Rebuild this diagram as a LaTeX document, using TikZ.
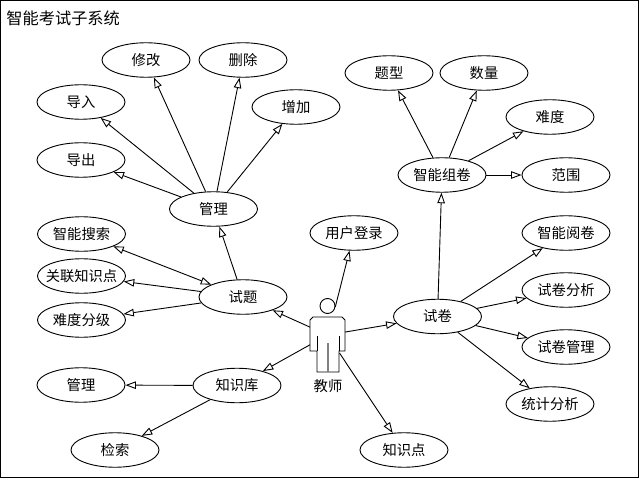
\documentclass[tikz,border=0pt]{standalone}
\usepackage{fontspec}
\setmainfont{Noto Sans CJK SC}
\usetikzlibrary{arrows.meta,shapes.geometric}
\tikzset{
  x=1pt,y=-1pt,
  every path/.style={line width=0.9pt},
  uc/.style={draw,ellipse,inner sep=0pt,minimum width=88pt,minimum height=34.5pt,font=\fontsize{14.3}{14}\selectfont,fill=white},
  conn/.style={-{Triangle[open,fill=white,length=10.5pt,width=7.5pt]}},
  both/.style={{Triangle[open,fill=white,length=10.5pt,width=7.5pt]}-{Triangle[open,fill=white,length=10.5pt,width=7.5pt]}},
  port/.style={inner sep=0pt,outer sep=0pt,minimum width=35pt,minimum height=36pt,rectangle}
}
\begin{document}
\begin{tikzpicture}
\useasboundingbox (0,0) rectangle (639,478);
\draw (0.5,0.5) rectangle (638.5,477.5);
\node[anchor=west,inner sep=0pt,font=\fontsize{16.2}{16}\selectfont] (title) at (6,18) {智能考试子系统};
\node[uc] (xiugai) at (146,60) {修改};
\node[uc] (shanchu) at (243,60) {删除};
\node[uc] (daoru) at (81,102) {导入};
\node[uc] (zengjia) at (296,107) {增加};
\node[uc] (daochu) at (81,160) {导出};
\node[uc] (guanli) at (213.5,209) {管理};
\node[uc] (sousuo) at (81.5,234) {智能搜索};
\node[uc] (guanlian) at (81.5,276) {\makebox[0pt][c]{关联知识点}};
\node[uc] (fenji) at (81.5,320) {难度分级};
\node[uc] (shiti) at (243,297) {试题};
\node[uc] (denglu) at (354,233) {用户登录};
\node[uc] (tixing) at (389,73) {题型};
\node[uc] (shuliang) at (484,73) {数量};
\node[uc] (nandu) at (550,117) {难度};
\node[uc] (zujuan) at (442,175) {智能组卷};
\node[uc] (fanwei) at (566,175) {范围};
\node[uc] (yuejuan) at (566,233) {智能阅卷};
\node[uc] (fenxi) at (566,290) {试卷分析};
\node[uc] (shijuan) at (437.5,316.5) {试卷};
\node[uc] (sjguanli) at (566,347) {试卷管理};
\node[uc] (tongji) at (550,404) {统计分析};
\node[uc] (zsguanli) at (81,385) {管理};
\node[uc] (zhishiku) at (237,385.5) {知识库};
\node[uc] (jiansuo) at (115,450) {检索};
\node[uc] (zhishidian) at (404,450) {知识点};
% actor
\draw (327.5,306) circle (7.5);
\draw (313,317) -- (342,317) -- (345,320) -- (345,351) -- (339,351) -- (339,372) -- (317,372) -- (317,351) -- (310,351) -- (310,320) -- cycle;
\draw (317,336) -- (317,351) (339,336) -- (339,351);
\draw[line width=1.2pt,gray] (328,343) -- (328,372);
\node[port] (teacher) at (327.5,335) {};
\coordinate (teachertop) at (335.3,307);
\node[inner sep=0pt,font=\fontsize{14.3}{14}\selectfont] (tlabel) at (328,386) {教师};
% connectors
\foreach \a/\b in {guanli/xiugai,guanli/shanchu,guanli/daoru,guanli/zengjia,guanli/daochu,
  shiti/guanli,shiti/guanlian,shiti/fenji,
  zujuan/tixing,zujuan/shuliang,zujuan/nandu,zujuan/fanwei,
  shijuan/zujuan,shijuan/yuejuan,shijuan/fenxi,shijuan/sjguanli,shijuan/tongji,
  zhishiku/zsguanli,zhishiku/jiansuo,
  teacher/shiti,teacher/shijuan,teacher/zhishiku,teacher/zhishidian,teachertop/denglu}
  {\draw[conn] (\a) -- (\b);}
\draw[both] (shiti) -- (sousuo);
\end{tikzpicture}
\end{document}
